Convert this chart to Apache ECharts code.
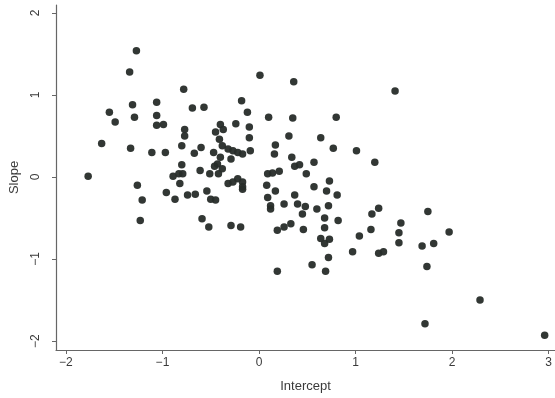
<!DOCTYPE html>
<html>
<head>
<meta charset="utf-8">
<script src="https://cdn.jsdelivr.net/npm/echarts@6/dist/echarts.min.js"></script>
<style>
    html,body{margin:0;padding:0;background:#fff;}
    #scatter{width:555px;height:398px;}
</style>
</head>
<body>
<div id="scatter"></div>
<script>
// one entry per dot
let intercept = [
    -1.27,-1.34,-0.78,0.01,0.36,1.41,-1.55,-1.49,-1.31,-1.29,
    -1.06,-1.06,-1.06,-0.99,-1.63,-1.33,-1.11,-0.97,-1.77,-0.77,
    -0.77,-0.69,-0.57,-0.80,-0.67,-0.60,-0.80,-0.89,-0.83,-0.79,
    -0.82,-0.96,-0.87,-0.74,-0.66,-0.61,-0.51,-0.47,-1.26,-1.21,
    -1.23,-0.54,-0.50,-0.45,-0.59,-0.52,-0.29,-0.19,-0.17,-0.24,
    -0.18,-0.12,-0.10,-0.10,-0.09,0.10,-0.40,-0.37,-0.45,-0.41,
    -0.38,-0.32,-0.27,-0.22,-0.17,-0.40,-0.29,-0.43,-0.46,-0.42,
    -0.32,-0.27,-0.22,-0.17,-0.17,-0.38,0.17,0.16,0.09,0.14,
    0.21,0.08,0.17,0.09,0.12,0.12,0.26,0.37,0.40,0.45,
    0.48,0.37,0.42,0.19,0.26,0.33,0.46,0.19,0.31,0.34,
    0.35,0.80,0.64,0.77,1.01,1.20,0.57,0.49,0.57,0.73,
    0.70,0.81,0.60,0.72,0.68,0.82,0.68,0.64,0.68,0.73,
    0.72,0.55,0.69,0.97,1.04,1.17,1.24,1.16,1.24,1.29,
    1.47,1.45,1.45,1.75,1.69,1.81,1.97,1.74,1.72,2.29,
    2.96
];
let slope = [
    1.54,1.28,1.07,1.24,1.16,1.05,0.79,0.67,0.88,0.73,
    0.91,0.75,0.63,0.64,0.41,0.35,0.30,0.30,0.01,0.58,
    0.50,0.84,0.85,0.38,0.29,0.36,0.15,0.01,0.04,0.04,
    -0.08,-0.19,-0.27,-0.22,-0.21,0.08,0.04,0.30,-0.10,-0.28,
    -0.53,-0.17,-0.27,-0.28,-0.51,-0.61,-0.59,-0.61,-0.15,0.65,
    0.93,0.79,0.61,0.48,0.32,0.73,0.64,0.58,0.55,0.46,
    0.38,0.34,0.32,0.30,0.28,0.24,0.22,0.16,0.13,0.04,
    -0.08,-0.06,-0.02,-0.06,-0.12,0.10,0.39,0.28,0.04,0.05,
    0.07,-0.10,-0.17,-0.25,-0.35,-0.39,-0.33,-0.22,-0.33,-0.45,
    -0.36,0.13,0.15,-0.65,-0.61,-0.57,-0.64,-1.15,0.50,0.24,
    0.72,0.73,0.48,0.35,0.32,0.18,0.18,0.04,-0.12,-0.05,
    -0.17,-0.22,-0.39,-0.35,-0.50,-0.53,-0.62,-0.75,-0.81,-0.76,
    -0.98,-1.07,-1.15,-0.91,-0.72,-0.45,-0.38,-0.64,-0.93,-0.91,
    -0.56,-0.68,-0.80,-0.42,-0.84,-0.81,-0.67,-1.09,-1.79,-1.50,
    -1.93
];
let xTicks = [-2,-1,0,1,2,3];
let yTicks = [-2,-1,0,1,2];

let chart = echarts.init(document.getElementById('scatter'));

let points = intercept.map((x,i)=>[x,slope[i]]);
let fontColor = '#3a3a3a';
let lineColor = '#666';
let minusLabel = v => (v<0 ? '\u2212' + Math.abs(v) : String(v));

chart.setOption({
    animation:false,
    backgroundColor:'#fff',
    textStyle:{fontFamily:'Liberation Sans, Arial, sans-serif'},
    grid:{left:52,right:0,top:5,bottom:46},
    xAxis:{
        type:'value',
        min:-2.103,
        max:3.067,
        name:'Intercept',
        nameLocation:'middle',
        nameGap:30,
        nameTextStyle:{color:fontColor,fontSize:13},
        axisLine:{show:true,onZero:false,lineStyle:{color:lineColor,width:1.2}},
        axisTick:{show:true,customValues:xTicks,length:4,lineStyle:{color:lineColor}},
        axisLabel:{customValues:xTicks,color:fontColor,fontSize:12,margin:7,formatter:minusLabel},
        splitLine:{show:false}
    },
    yAxis:{
        type:'value',
        min:-2.109,
        max:2.097,
        name:'Slope',
        nameLocation:'middle',
        nameGap:35,
        nameRotate:90,
        nameTextStyle:{color:fontColor,fontSize:13},
        axisLine:{show:true,onZero:false,lineStyle:{color:lineColor,width:1.2}},
        axisTick:{show:true,customValues:yTicks,length:4,lineStyle:{color:lineColor}},
        axisLabel:{customValues:yTicks,color:fontColor,fontSize:12,margin:14,rotate:90,formatter:minusLabel},
        splitLine:{show:false}
    },
    series:[{
        type:'scatter',
        symbol:'circle',
        symbolSize:7.5,
        itemStyle:{color:'#272c29',opacity:0.95},
        data:points
    }]
});
</script>
</body>
</html>
